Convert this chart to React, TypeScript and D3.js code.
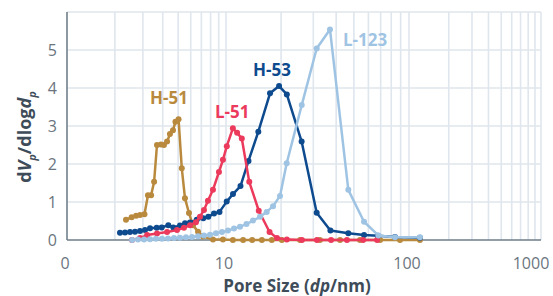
import React from 'react';
import * as d3 from 'd3';

// pore size (nm) and dVp/dlogdp
const h51X = [2.35, 2.55, 2.72, 2.88, 3.07, 3.23, 3.38, 3.53, 3.68, 3.9, 4.07, 4.26, 4.44, 4.64, 4.81, 5.03, 5.27, 5.52, 5.85, 6.2, 6.67, 7.17, 8.28, 9.57, 10.9, 12.4, 13.9, 15.7, 17.8, 20.2, 25.4, 32.6, 42, 54, 69.5, 89.3, 121];
const h51Y = [0.53, 0.6, 0.64, 0.66, 0.68, 1.18, 1.18, 1.53, 2.5, 2.51, 2.5, 2.59, 2.79, 2.89, 3.11, 3.18, 1.89, 1.1, 0.71, 0.39, 0.22, 0.09, 0.01, 0.01, 0, 0, 0, 0, 0, 0, 0, 0, 0, 0, 0, 0, 0];

const l51X = [2.56, 2.88, 3.19, 3.68, 4.26, 4.92, 5.44, 5.94, 6.47, 6.86, 7.27, 7.7, 8.28, 9.03, 9.57, 10.1, 10.9, 11.5, 12.2, 13.4, 15.1, 17.3, 19, 21.5, 26, 31.4, 37.5, 45.8, 56.1, 66.9];
const l51Y = [0, 0.05, 0.13, 0.17, 0.21, 0.26, 0.32, 0.39, 0.47, 0.61, 0.79, 1.03, 1.32, 1.79, 2.11, 2.47, 2.94, 2.82, 2.67, 1.53, 0.77, 0.21, 0.05, 0.01, 0, 0, 0, 0, 0, 0];

const h53X = [2.154, 2.317, 2.49, 2.678, 2.879, 3.094, 3.327, 3.666, 3.941, 4.336, 4.663, 5.136, 5.523, 5.937, 6.542, 7.197, 7.739, 8.406, 9.101, 10.09, 10.92, 12, 13.27, 15.02, 17.4, 19.5, 21.5, 25.9, 31.3, 37.2, 46.6, 56.8, 67.7, 83.8, 121];
const h53Y = [0.19, 0.2, 0.21, 0.22, 0.24, 0.26, 0.31, 0.32, 0.33, 0.39, 0.33, 0.38, 0.44, 0.46, 0.53, 0.57, 0.61, 0.7, 0.74, 1.01, 1.21, 1.42, 2.08, 2.85, 3.86, 4.05, 3.83, 2.59, 0.72, 0.25, 0.18, 0.13, 0.11, 0.08, 0.06];

const l123X = [2.564, 2.796, 3.05, 3.327, 3.628, 3.958, 4.317, 4.709, 5.136, 5.603, 6.112, 6.667, 7.272, 7.932, 8.652, 9.437, 10.25, 11.06, 11.93, 12.94, 14.05, 15.34, 16.69, 18.07, 19.73, 21.46, 25.93, 31.3, 37, 46.6, 56.8, 68, 83.8, 121];
const l123Y = [0, 0.01, 0.01, 0.02, 0.03, 0.03, 0.04, 0.05, 0.06, 0.07, 0.08, 0.1, 0.12, 0.14, 0.18, 0.21, 0.25, 0.3, 0.35, 0.42, 0.51, 0.61, 0.74, 0.89, 1.16, 2.02, 3.55, 5.04, 5.54, 1.32, 0.48, 0.12, 0.07, 0.07];

const seriesNames = ['H-51', 'H-53', 'L-51', 'L-123'];
const seriesColors = ['#b98a3e', '#0e4a8e', '#ec3a5c', '#9fc4e3'];
const seriesXs = [h51X, h53X, l51X, l123X];
const seriesYs = [h51Y, h53Y, l51Y, l123Y];
// label anchors in data units (pore size, value)
const labelX = [3.33, 14.05, 8.53, 43.6];
const labelY = [3.58, 4.32, 3.21, 5.1];

const xTickValues = [1, 10, 100, 1000];
const xTickLabels = ['0', '10', '100', '1000'];
const yTickValues = [0, 1, 2, 3, 4, 5];

const App: React.FC = () => {
  const width = 553;
  const height = 296;

  // the reference decades are not evenly spaced, so map log10 piecewise
  const xLog = d3.scaleLinear().domain([0, 1, 2, 3]).range([67, 226, 409, 541]);
  const x = (v: number) => xLog(Math.log10(v));
  const y = d3.scaleLinear().domain([0, 6]).range([240, 12]);

  const vGrid: number[] = [];
  for (let k = 0; k < 3; k++) {
    for (let m = 1; m < 10; m++) vGrid.push(m * Math.pow(10, k));
  }
  vGrid.push(1000);

  const line = d3.line<[number, number]>()
    .x(d => x(d[0]))
    .y(d => y(d[1]));

  const font = '"Open Sans", sans-serif';

  return (
    <svg width={width} height={height} style={{ position: 'absolute', left: 0, top: 0, background: '#fff' }}>
      <g>
        {vGrid.map((v, i) => (
          <line key={'v' + i} x1={x(v)} x2={x(v)} y1={y(6)} y2={y(0)} stroke="#dfe6ed" strokeWidth={1.6} />
        ))}
        {d3.range(1, 7).map(v => (
          <line key={'h' + v} x1={x(1)} x2={x(1000)} y1={y(v)} y2={y(v)} stroke="#dfe6ed" strokeWidth={1.6} />
        ))}
      </g>

      <line x1={x(1)} x2={x(1)} y1={y(6)} y2={y(0)} stroke="#6e7d89" strokeWidth={1.5} />
      <line x1={x(1)} x2={x(1000)} y1={y(0)} y2={y(0)} stroke="#6e7d89" strokeWidth={1.5} />

      {yTickValues.map(v => (
        <text key={'yt' + v} x={57} y={y(v)} dy="0.36em" textAnchor="end"
          fontFamily={font} fontSize={16} fill="#6b7580">{v}</text>
      ))}
      {xTickValues.map((v, i) => (
        <text key={'xt' + v} x={x(v)} dx={i === 3 ? -10 : -2} y={269} textAnchor="middle"
          fontFamily={font} fontSize={16} fill="#6b7580">{xTickLabels[i]}</text>
      ))}

      {seriesNames.map((name, si) => {
        const pts = seriesXs[si].map((xv, j) => [xv, seriesYs[si][j]] as [number, number]);
        return (
          <g key={name}>
            <path d={line(pts) || ''} fill="none" stroke={seriesColors[si]} strokeWidth={2.5} strokeLinejoin="round" />
            {pts.map((p, j) => (
              <circle key={j} cx={x(p[0])} cy={y(p[1])} r={3} fill={seriesColors[si]} />
            ))}
          </g>
        );
      })}

      {seriesNames.map((name, si) => (
        <text key={'lab' + name} x={x(labelX[si])} y={y(labelY[si])} fontFamily={font}
          fontSize={17} fontWeight="bold" fill={seriesColors[si]}>{name}</text>
      ))}

      <text x={297} y={292} textAnchor="middle" fontFamily={font} fontSize={17} fontWeight="bold" fill="#3e4c59">
        Pore Size (<tspan fontStyle="italic">dp</tspan>/nm)
      </text>

      <text transform="translate(31,137) rotate(-90)" textAnchor="middle" fontFamily={font}
        fontSize={18} fontWeight="bold" fill="#3e4c59">
        d<tspan fontStyle="italic">V</tspan>
        <tspan fontSize={11} fontStyle="italic" dy={5}>p</tspan>
        <tspan dy={-5}>/dlog</tspan>
        <tspan fontStyle="italic">d</tspan>
        <tspan fontSize={11} fontStyle="italic" dy={5}>p</tspan>
      </text>
    </svg>
  );
};

export default App;
